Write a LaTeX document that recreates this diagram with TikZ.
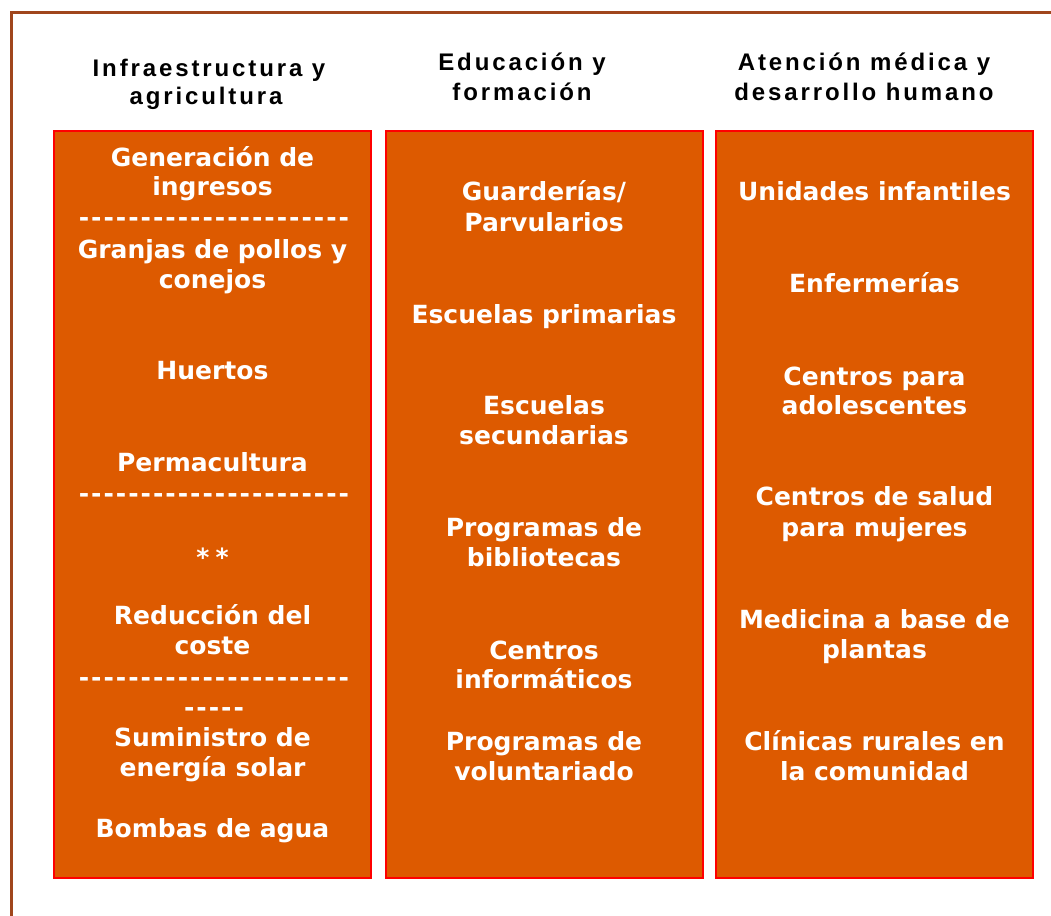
\documentclass[tikz,border=0pt]{standalone}
\usepackage{fontspec}
\setmainfont{DejaVu Sans}
\newfontfamily\hdrfont{Liberation Sans}[LetterSpace=12]
\newfontfamily\dashfont{DejaVu Sans}[LetterSpace=8]
\definecolor{framebrown}{HTML}{A0461C}
\definecolor{boxorange}{HTML}{DD5A00}
\begin{document}
\begin{tikzpicture}[x=1pt,y=-1pt,
  box/.style={draw=red,line width=2pt,fill=boxorange,minimum width=317pt,minimum height=747pt,inner sep=0pt},
  body/.style={anchor=base,inner sep=0pt,text=white,font=\fontsize{25}{30}\selectfont\bfseries},
  dashline/.style={anchor=base,inner sep=0pt,text=white,font=\fontsize{25}{30}\selectfont\bfseries\dashfont},
  head/.style={anchor=base,inner sep=0pt,text=black,font=\fontsize{24}{28}\selectfont\bfseries\hdrfont}]
\useasboundingbox (0,0) rectangle (1051,915);
\fill[white] (0,0) rectangle (1051,915);
% frame
\draw[framebrown,line width=2.2pt] (11.5,920) -- (11.5,12.5) -- (1060,12.5);
% boxes
\node[box] (b1) at (212.5,504.5) {};
\node[box] (b2) at (544,504.5) {};
\node[box] (b3) at (874.5,504.5) {};
% headers
\node[head] (h1a) at (209,77) {Infraestructura y};
\node[head] (h1b) at (206,105) {agricultura};
\node[head] (h2a) at (522,71) {Educación y};
\node[head] (h2b) at (522,101) {formación};
\node[head] (h3a) at (864,71) {Atención médica y};
\node[head] (h3b) at (864,101) {desarrollo humano};
% column 1
\foreach \yy/\tt [count=\i] in {166/Generación de, 195/ingresos, 258/Granjas de pollos y, 288/conejos, 379/Huertos, 471/Permacultura, 566/{*\hspace{6pt}*}, 624/Reducción del, 654/coste, 746/Suministro de, 776/energía solar, 837/Bombas de agua}
  \node[body] (c1-\i) at (212.5,\yy) {\tt};
\foreach \yy/\tt [count=\i] in {226/----------------------, 502/----------------------, 686/----------------------, 716/-----}
  \node[dashline] (d1-\i) at (214,\yy) {\tt};
% column 2
\foreach \yy/\tt [count=\i] in {200/{Guarderías/}, 231/Parvularios, 323/Escuelas primarias, 414/Escuelas, 444/secundarias, 536/Programas de, 566/bibliotecas, 659/Centros, 688/informáticos, 750/Programas de, 780/voluntariado}
  \node[body] (c2-\i) at (544,\yy) {\tt};
% column 3
\foreach \yy/\tt [count=\i] in {200/Unidades infantiles, 292/Enfermerías, 385/Centros para, 414/adolescentes, 505/Centros de salud, 536/para mujeres, 628/Medicina a base de, 658/plantas, 750/Clínicas rurales en, 780/la comunidad}
  \node[body] (c3-\i) at (874.5,\yy) {\tt};
\end{tikzpicture}
\end{document}
